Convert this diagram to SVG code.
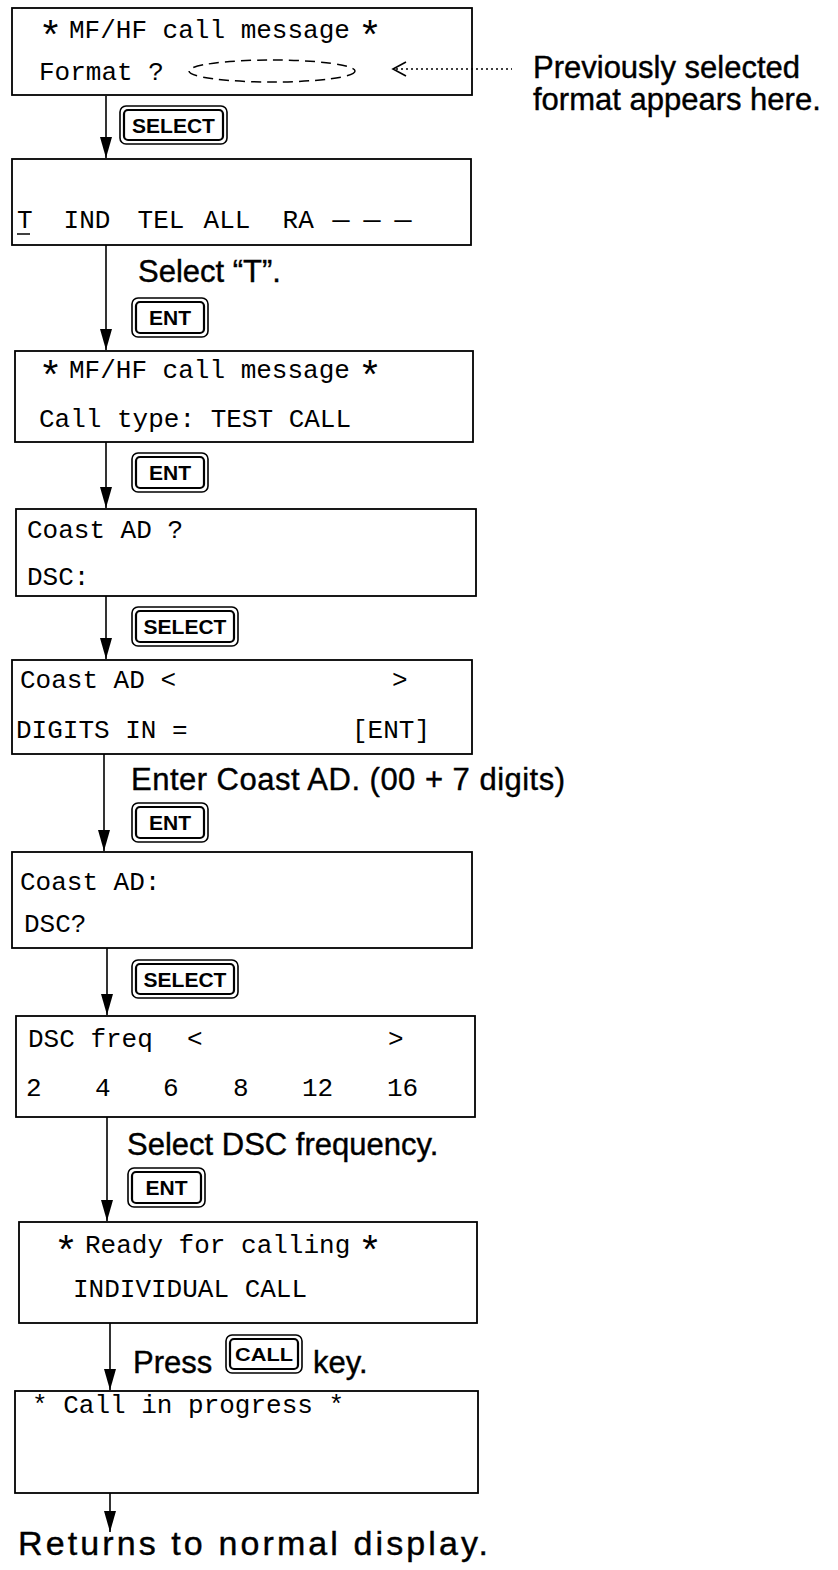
<svg xmlns="http://www.w3.org/2000/svg" width="838" height="1570" viewBox="0 0 838 1570">
<style>
.bg{fill:#fff}
.box{fill:#fff;stroke:#000;stroke-width:1.8}
.mono{font-family:"Liberation Mono","Courier New",monospace;font-size:26px;fill:#000}
.ast{font-family:"Liberation Mono","Courier New",monospace;font-size:40px;fill:#000}
.sans{font-family:"Liberation Sans",Arial,sans-serif;font-size:31px;fill:#000;stroke:#000;stroke-width:0.4}
.ko{fill:#fff;stroke:#000;stroke-width:1.6}
.ki{fill:none;stroke:#000;stroke-width:2.2}
.kt{font-family:"Liberation Sans",Arial,sans-serif;font-weight:bold;font-size:21px;text-anchor:middle;fill:#000}
.conn{stroke:#000;stroke-width:1.6;fill:none}
</style>
<defs>
<marker id="ah" markerUnits="userSpaceOnUse" viewBox="0 0 21 12" refX="21" refY="6" markerWidth="21" markerHeight="12" orient="auto">
<path d="M0,0 L21,6 L0,12 z" fill="#000"/>
</marker>
</defs>
<rect class="bg" x="0" y="0" width="838" height="1570"/>

<g id="box1">
<rect class="box" x="12" y="8" width="460" height="87"/>
<text class="ast" x="38.5" y="50">*</text>
<text class="mono" x="69" y="38">MF/HF call message</text>
<text class="ast" x="358" y="50">*</text>
<text class="mono" x="39" y="80">Format ?</text>
<ellipse cx="272" cy="71" rx="83" ry="11" fill="none" stroke="#000" stroke-width="1.5" stroke-dasharray="10 6"/>
</g>

<g id="note">
<text class="sans" x="533" y="78">Previously selected</text>
<text class="sans" x="533" y="110">format appears here.</text>
</g>

<g id="key1">
<rect class="ko" x="120" y="106" width="107" height="38" rx="6"/>
<rect class="ki" x="124" y="110" width="99" height="30" rx="4"/>
<text class="kt" x="173.5" y="132.5">SELECT</text>
</g>

<g id="box2">
<rect class="box" x="12" y="159" width="459" height="86"/>
<text class="mono" y="228"><tspan x="17">T</tspan><tspan x="48"> IND</tspan><tspan x="122"> TEL</tspan><tspan x="188"> ALL</tspan><tspan x="267"> RA</tspan><tspan x="329" textLength="24" lengthAdjust="spacingAndGlyphs">–</tspan><tspan x="360" textLength="24" lengthAdjust="spacingAndGlyphs">–</tspan><tspan x="391" textLength="24" lengthAdjust="spacingAndGlyphs">–</tspan></text>
<line x1="17" y1="234" x2="30" y2="234" stroke="#000" stroke-width="1.5"/>
</g>

<g id="step2">
<text class="sans" x="138" y="282">Select “T”.</text>
</g>

<g id="key2">
<rect class="ko" x="132" y="298" width="76" height="39" rx="6"/>
<rect class="ki" x="136" y="302" width="68" height="31" rx="4"/>
<text class="kt" x="170" y="325">ENT</text>
</g>

<g id="box3">
<rect class="box" x="15" y="351" width="458" height="91"/>
<text class="ast" x="38.5" y="390">*</text>
<text class="mono" x="69" y="378">MF/HF call message</text>
<text class="ast" x="358" y="390">*</text>
<text class="mono" x="39" y="427">Call type: TEST CALL</text>
</g>

<g id="key3">
<rect class="ko" x="132" y="453" width="76" height="39" rx="6"/>
<rect class="ki" x="136" y="457" width="68" height="31" rx="4"/>
<text class="kt" x="170" y="480">ENT</text>
</g>

<g id="box4">
<rect class="box" x="16" y="509" width="460" height="87"/>
<text class="mono" x="27" y="538">Coast AD ?</text>
<text class="mono" x="27" y="585">DSC:</text>
</g>

<g id="key4">
<rect class="ko" x="132" y="607" width="106" height="39" rx="6"/>
<rect class="ki" x="136" y="611" width="98" height="31" rx="4"/>
<text class="kt" x="185" y="634">SELECT</text>
</g>

<g id="box5">
<rect class="box" x="12" y="660" width="460" height="94"/>
<text class="mono" y="688"><tspan x="20">Coast AD &lt;</tspan><tspan x="376.4"> &gt;</tspan></text>
<text class="mono" y="738"><tspan x="16">DIGITS IN =</tspan><tspan x="336.4"> [ENT]</tspan></text>
</g>

<g id="step5">
<text class="sans" x="131" y="790" textLength="434" lengthAdjust="spacing">Enter Coast AD. (00 + 7 digits)</text>
</g>

<g id="key5">
<rect class="ko" x="132" y="803" width="76" height="39" rx="6"/>
<rect class="ki" x="136" y="807" width="68" height="31" rx="4"/>
<text class="kt" x="170" y="830">ENT</text>
</g>

<g id="box6">
<rect class="box" x="12" y="852" width="460" height="96"/>
<text class="mono" x="20" y="890">Coast AD:</text>
<text class="mono" x="24" y="932">DSC?</text>
</g>

<g id="key6">
<rect class="ko" x="132" y="960" width="106" height="38" rx="6"/>
<rect class="ki" x="136" y="964" width="98" height="30" rx="4"/>
<text class="kt" x="185" y="986.5">SELECT</text>
</g>

<g id="box7">
<rect class="box" x="16" y="1016" width="459" height="101"/>
<text class="mono" y="1047"><tspan x="28">DSC freq</tspan><tspan x="171.4"> &lt;</tspan><tspan x="372.4"> &gt;</tspan></text>
<text class="mono" y="1096"><tspan x="26">2</tspan><tspan x="79.4"> 4</tspan><tspan x="147.4"> 6</tspan><tspan x="217.4"> 8</tspan><tspan x="286.4"> 12</tspan><tspan x="371.4"> 16</tspan></text>
</g>

<g id="step7">
<text class="sans" x="127" y="1155">Select DSC frequency.</text>
</g>

<g id="key7">
<rect class="ko" x="128" y="1168" width="77" height="39" rx="6"/>
<rect class="ki" x="132" y="1172" width="69" height="31" rx="4"/>
<text class="kt" x="166.5" y="1195">ENT</text>
</g>

<g id="box8">
<rect class="box" x="19" y="1222" width="458" height="101"/>
<text class="ast" x="54" y="1265">*</text>
<text class="mono" x="85" y="1253">Ready for calling</text>
<text class="ast" x="358" y="1265">*</text>
<text class="mono" x="73" y="1297">INDIVIDUAL CALL</text>
</g>

<g id="step8">
<text class="sans" x="133" y="1373">Press</text>
<text class="sans" x="313" y="1373">key.</text>
</g>

<g id="key8">
<rect class="ko" x="226" y="1335" width="76" height="38" rx="6"/>
<rect class="ki" x="230" y="1339" width="68" height="30" rx="4"/>
<text class="kt" x="264" y="1360.5" style="font-size:18px" textLength="58" lengthAdjust="spacingAndGlyphs">CALL</text>
</g>

<g id="box9">
<rect class="box" x="15" y="1391" width="463" height="102"/>
<text class="mono" x="32" y="1413">* Call in progress *</text>
</g>

<g id="end">
<text class="sans" x="18" y="1555" style="font-size:34px" textLength="470" lengthAdjust="spacing">Returns to normal display.</text>
</g>

<g id="connectors">
<path class="conn" d="M106,96 V158" marker-end="url(#ah)"/>
<path class="conn" d="M106,245 V350" marker-end="url(#ah)"/>
<path class="conn" d="M106,442 V508" marker-end="url(#ah)"/>
<path class="conn" d="M106,596 V659" marker-end="url(#ah)"/>
<path class="conn" d="M104,754 V851" marker-end="url(#ah)"/>
<path class="conn" d="M107,948 V1015" marker-end="url(#ah)"/>
<path class="conn" d="M107,1117 V1221" marker-end="url(#ah)"/>
<path class="conn" d="M110,1323 V1390" marker-end="url(#ah)"/>
<path class="conn" d="M110,1493 V1532" marker-end="url(#ah)"/>
<path class="conn" d="M396,69 H512" stroke-dasharray="2 3" stroke-width="1.4"/>
<path class="conn" d="M406,62 L393,69 L406,76" stroke-width="1.4"/>
</g>
</svg>
